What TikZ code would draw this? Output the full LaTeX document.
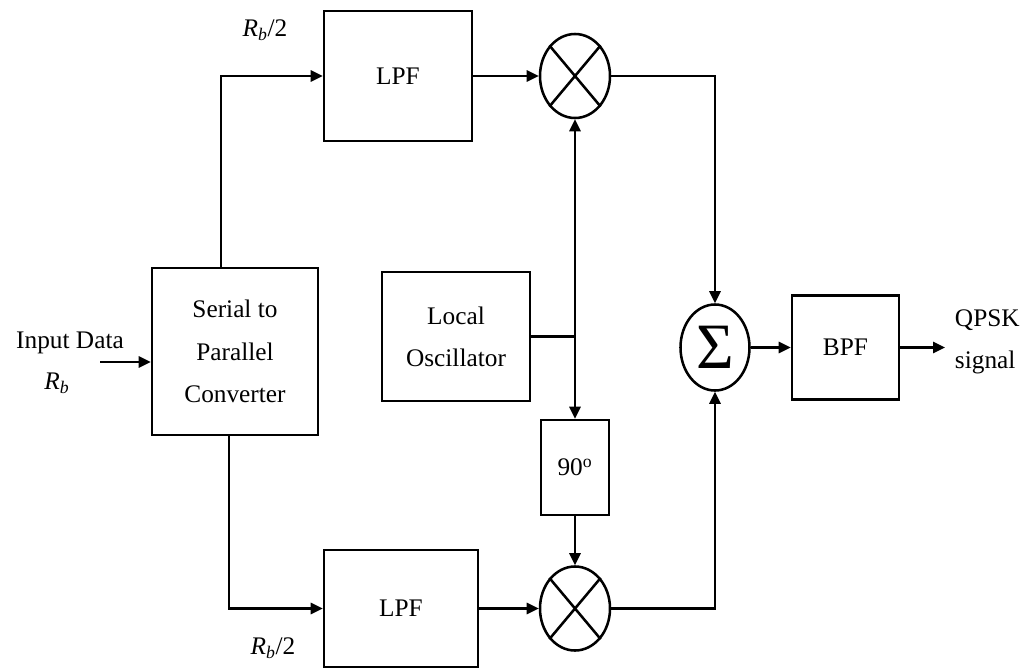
\documentclass[tikz,border=0pt]{standalone}
\usepackage{fontspec}
\setmainfont{Liberation Serif}
\usetikzlibrary{shapes.geometric,arrows.meta,positioning}

\tikzstyle{block} = [draw, line width=1.8pt, inner sep=0pt, align=center]
\tikzstyle{mixer} = [draw, ellipse, line width=1.8pt, minimum width=1.75cm, minimum height=2.1cm, inner sep=0pt]
\tikzstyle{line} = [line width=1.8pt]
\tikzstyle{arrow} = [line width=1.8pt,->,>={Triangle[length=0.3cm,width=0.28cm]}]

\begin{document}
\begin{tikzpicture}[x=0.025cm,y=-0.025cm,font=\fontsize{18}{30}\selectfont]
\useasboundingbox (0,0) rectangle (1024,670);

\node (s2p) [block, minimum width=4.15cm, minimum height=4.175cm] at (235,351.5) {Serial to\\Parallel\\Converter};
\node (lpf1) [block, minimum width=3.7cm, minimum height=3.25cm] at (398,76) {LPF};
\node (lpf2) [block, minimum width=3.85cm, minimum height=2.925cm] at (401,608.5) {LPF};
\node (lo) [block, minimum width=3.7cm, minimum height=3.225cm] at (456,336.5) {Local\\Oscillator};
\node (m1) [mixer] at (575,76) {};
\node (m2) [mixer] at (575,608.5) {};
\node (ph) [block, minimum width=1.7cm, minimum height=2.375cm] at (575,467.5) {90\textsuperscript{o}};
\node (sum) [mixer, minimum width=1.725cm, minimum height=2.15cm] at (715,347.5) {\fontsize{46}{46}\selectfont Σ};
\node (bpf) [block, minimum width=2.675cm, minimum height=2.6cm] at (845.5,347.5) {BPF};

\node (intext) at (70,343) {Input Data};
\node (inrate) at (57,383) {\textit{R}\textsubscript{\textit{b}}};
\node (rate1) at (265,30) {\textit{R}\textsubscript{\textit{b}}/2};
\node (rate2) at (273,648) {\textit{R}\textsubscript{\textit{b}}/2};
\node (qpsk) [anchor=west, align=left] at (950,342) {QPSK\\signal};

\coordinate (in) at (100,362);
\coordinate (outend) at (945,347.5);
\coordinate (lojoin) at (m1.south |- lo.east);

% mixer crosses
\foreach \m in {m1,m2} {
  \draw [line] (\m.north east) -- (\m.south west);
  \draw [line] (\m.north west) -- (\m.south east);
}

\draw [arrow] (in) -- (in -| s2p.west);
\draw [arrow] ([xshift=-0.35cm]s2p.north) |- (lpf1.west);
\draw [arrow] ([xshift=-0.15cm]s2p.south) |- (lpf2.west);
\draw [arrow] (lpf1) -- (m1);
\draw [arrow] (lpf2) -- (m2);
\draw [line] (lo.east) -- (lojoin);
\draw [arrow] (lojoin) -- (m1.south);
\draw [arrow] (lojoin) -- (ph);
\draw [arrow] (ph) -- (m2);
\draw [arrow] (m1) -| (sum);
\draw [arrow] (m2) -| (sum);
\draw [arrow] (sum) -- (bpf);
\draw [arrow] (bpf) -- (outend);

\end{tikzpicture}
\end{document}
